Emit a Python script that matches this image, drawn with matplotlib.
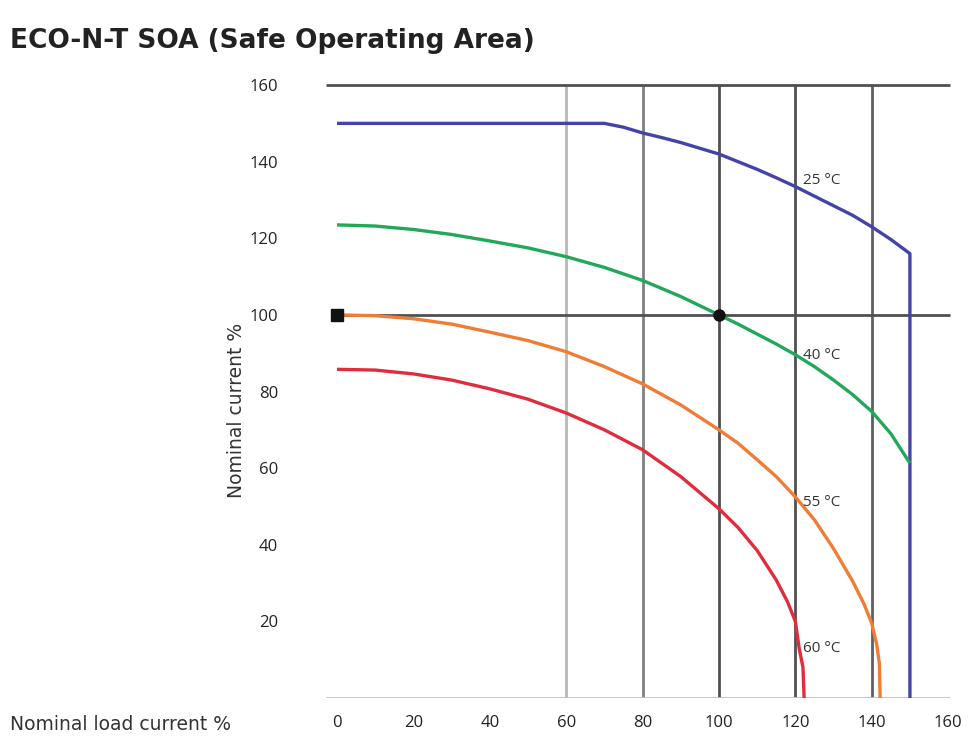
import matplotlib
matplotlib.use("Agg")
import matplotlib.pyplot as plt

plt.rcParams['font.family'] = ['Open Sans', 'DejaVu Sans']

# ---- data ----
x_ticks = [0, 20, 40, 60, 80, 100, 120, 140, 160]
y_ticks = [20, 40, 60, 80, 100, 120, 140, 160]

blue_x = [0, 70, 75, 80, 85, 90, 95, 100, 105, 110, 115, 120, 125, 130, 135, 140, 145, 150, 150]
blue_y = [150, 150, 149, 147.5, 146.3, 145, 143.5, 142, 140, 138, 135.8, 133.5, 131, 128.5, 126, 123, 119.7, 116, 0]

green_x = [0, 10, 20, 30, 40, 50, 60, 70, 80, 90, 100, 105, 110, 115, 120, 125, 130, 135, 140, 145, 150]
green_y = [123.5, 123.2, 122.3, 121, 119.3, 117.5, 115.2, 112.4, 109, 104.8, 100, 97.6, 95, 92.4, 89.6,
           86.5, 83, 79.2, 74.8, 69, 61.3]

orange_x = [0, 10, 20, 30, 40, 50, 60, 70, 80, 90, 100, 105, 110, 115, 120, 125, 130, 135, 138, 140, 141.3, 142, 142.2]
orange_y = [100, 99.8, 99, 97.6, 95.5, 93.3, 90.4, 86.5, 82, 76.5, 70, 66.5, 62.2, 57.8, 52.5, 46.5, 39, 30.5,
            24.5, 19.5, 14, 9, 0]

red_x = [0, 10, 20, 30, 40, 50, 60, 70, 80, 90, 100, 105, 110, 115, 118, 120, 121, 122, 122.3]
red_y = [85.8, 85.6, 84.6, 83, 80.7, 78, 74.4, 70, 64.8, 57.8, 49.4, 44.5, 38.5, 30.8, 25, 20, 13, 8, 0]

curve_labels = ["25 °C", "40 °C", "55 °C", "60 °C"]
label_y = [135, 89.5, 51, 13]

vgrid_x = [60, 80, 100, 120, 140]
vgrid_colors = ["#b8b8b8", "#808080", "#505050", "#505050", "#606060"]
hgrid_y = [160, 100]

dots_x = [0, 100]
dots_y = [100, 100]

# ---- figure ----
fig = plt.figure(figsize=(9.68, 7.45), dpi=100)
ax = fig.add_axes([0.3363, 0.0631, 0.655, 0.833])
ax.set_xlim(-3, 163)
ax.set_ylim(0, 162)
for s in ax.spines.values():
    s.set_visible(False)

for xv, c in zip(vgrid_x, vgrid_colors):
    ax.vlines(xv, 0, 160, color=c, lw=2.0, zorder=1)
for yv in hgrid_y:
    ax.hlines(yv, -3 if yv == 160 else 0, 160.5, color="#505050", lw=2.0, zorder=1)
ax.hlines(0, -3, 160.5, color="#c0c0c0", lw=2.0, zorder=1)

kw = dict(lw=2.4, zorder=3, solid_joinstyle="round", solid_capstyle="butt")
ax.plot(blue_x, blue_y, color="#4444a8", **kw)
ax.plot(green_x, green_y, color="#22a85a", **kw)
ax.plot(orange_x, orange_y, color="#f07c35", **kw)
ax.plot(red_x, red_y, color="#e02c3c", **kw)

ax.plot(dots_x[:1], dots_y[:1], marker="s", color="#111111", ms=8, zorder=4, clip_on=False)
ax.plot(dots_x[1:], dots_y[1:], marker="o", color="#111111", ms=8, zorder=4)

for t, yv in zip(curve_labels, label_y):
    ax.text(122, yv, t, fontsize=11, color="#333333", va="center", ha="left", zorder=5)

ax.set_xticks(x_ticks)
ax.set_xticklabels([str(v) for v in x_ticks])
ax.set_yticks(y_ticks)
ax.set_yticklabels([str(v) for v in y_ticks])
ax.tick_params(axis="both", length=0, labelsize=12, colors="#222222")
ax.tick_params(axis="y", pad=34)
ax.tick_params(axis="x", pad=12)

ax.set_ylabel("Nominal current %", fontsize=13.5, color="#333333", family=["DejaVu Sans"])
ax.yaxis.set_label_coords(-0.125, 0.464)
fig.text(0.010, 0.027, "Nominal load current %", fontsize=13.5, color="#333333", ha="left", va="center",
         family=["DejaVu Sans"])
fig.text(0.010, 0.945, "ECO-N-T SOA (Safe Operating Area)", fontsize=19, fontweight="bold",
         color="#222222", ha="left", va="center", family=["DejaVu Sans"])

fig.savefig("out.png", dpi=100, facecolor="white")
